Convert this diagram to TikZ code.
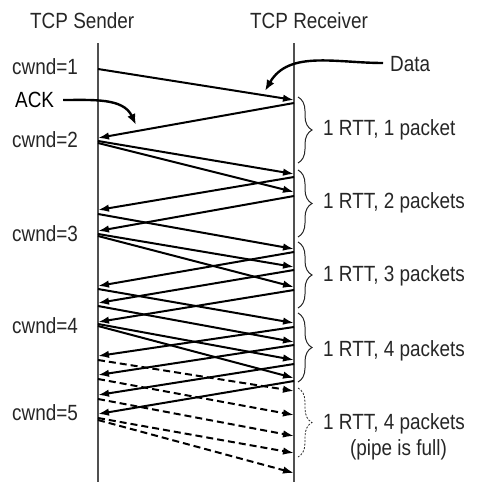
\documentclass[tikz,border=0pt]{standalone}
\usepackage{fontspec}
\setmainfont{Liberation Sans}
\usepackage{xcolor}
\usetikzlibrary{arrows.meta,decorations.pathreplacing}
\definecolor{ink}{HTML}{262626}
\definecolor{axis}{HTML}{505050}

\begin{document}
\begin{tikzpicture}[
    x=1pt, y=1pt,
    txt/.style={
      font=\fontsize{22}{26}\selectfont,
      text=ink,
      xscale=0.86,
      inner sep=0pt,
      anchor=base west
    },
    timeline/.style={draw=axis, line width=1.3pt},
    packet/.style={-{Latex[length=11pt,width=7.5pt]}, line width=2pt},
    pending/.style={packet, dash pattern=on 7pt off 4pt},
    pointer/.style={-{Latex[length=11pt,width=8.5pt]}, line width=2.4pt},
    rtt/.style={
      decorate,
      decoration={brace, amplitude=14pt},
      draw=ink,
      line width=1pt
    }
  ]
    \useasboundingbox (0,0) rectangle (478,-482);

    % headers and time lines
    \node[txt] (sender) at (30,-28) {TCP Sender};
    \node[txt] (receiver) at (250,-28) {TCP Receiver};
    \coordinate (sndtop) at (98,-43);
    \coordinate (rcvtop) at (294,-43);
    \draw[timeline] (sndtop) -- (sndtop |- 0,-482);
    \draw[timeline] (rcvtop) -- (rcvtop |- 0,-482);

    % congestion window
    \node[txt] (cwnd1) at (12,-74) {cwnd=1};
    \node[txt] (cwnd2) at (12,-147) {cwnd=2};
    \node[txt] (cwnd3) at (12,-241) {cwnd=3};
    \node[txt] (cwnd4) at (12,-333) {cwnd=4};
    \node[txt] (cwnd5) at (12,-420) {cwnd=5};

    % data segments
    \foreach \s/\r in {69/100, 141/174, 143/192, 214/249, 234/267,
                       236/287, 289/323, 306/342, 324/360, 326/378} {
      \path (sndtop |- 0,-\s) coordinate (tx) (rcvtop |- 0,-\r) coordinate (rx);
      \draw[packet] (tx) -- (rx);
    }
    % acknowledgements
    \foreach \r/\s in {103/138, 177/210, 196/231, 252/286, 270/303,
                       290/322, 327/356, 345/375, 364/395, 381/414} {
      \path (rcvtop |- 0,-\r) coordinate (rx) (sndtop |- 0,-\s) coordinate (tx);
      \draw[packet] (rx) -- (tx);
    }
    % pipe is full
    \foreach \s/\r in {360/391, 379/415, 399/436, 418/453, 420/473} {
      \path (sndtop |- 0,-\s) coordinate (tx) (rcvtop |- 0,-\r) coordinate (rx);
      \draw[pending] (tx) -- (rx);
    }

    % callouts
    \node[txt] (datalbl) at (390,-71) {Data};
    \coordinate (datatip) at (265,-91);
    \draw[pointer] ([xshift=-7pt,yshift=8pt]datalbl.base west)
      to[out=180,in=60] (datatip);
    \node[txt, text=black] (acklbl) at (15,-107) {ACK};
    \coordinate (acktip) at (136,-125);
    \draw[pointer] ([xshift=9pt,yshift=7pt]acklbl.base east)
      to[out=0,in=115] (acktip);

    % round trips
    \draw[rtt] (298,-97) -- (298,-163);
    \draw[rtt] (298,-170) -- (298,-237);
    \draw[rtt] (298,-242) -- (298,-308);
    \draw[rtt] (298,-313) -- (298,-382);
    \draw[rtt, line width=0.8pt, dash pattern=on 2pt off 1.5pt]
      (298,-388) -- (298,-457);

    \node[txt] (rtt1) at (323,-135) {1 RTT, 1 packet};
    \node[txt] (rtt2) at (323,-208) {1 RTT, 2 packets};
    \node[txt] (rtt3) at (323,-281) {1 RTT, 3 packets};
    \node[txt] (rtt4) at (323,-356) {1 RTT, 4 packets};
    \node[txt] (rtt5) at (323,-429) {1 RTT, 4 packets};
    \node[txt] (pipefull) at (350,-455) {(pipe is full)};
  \end{tikzpicture}
\end{document}
